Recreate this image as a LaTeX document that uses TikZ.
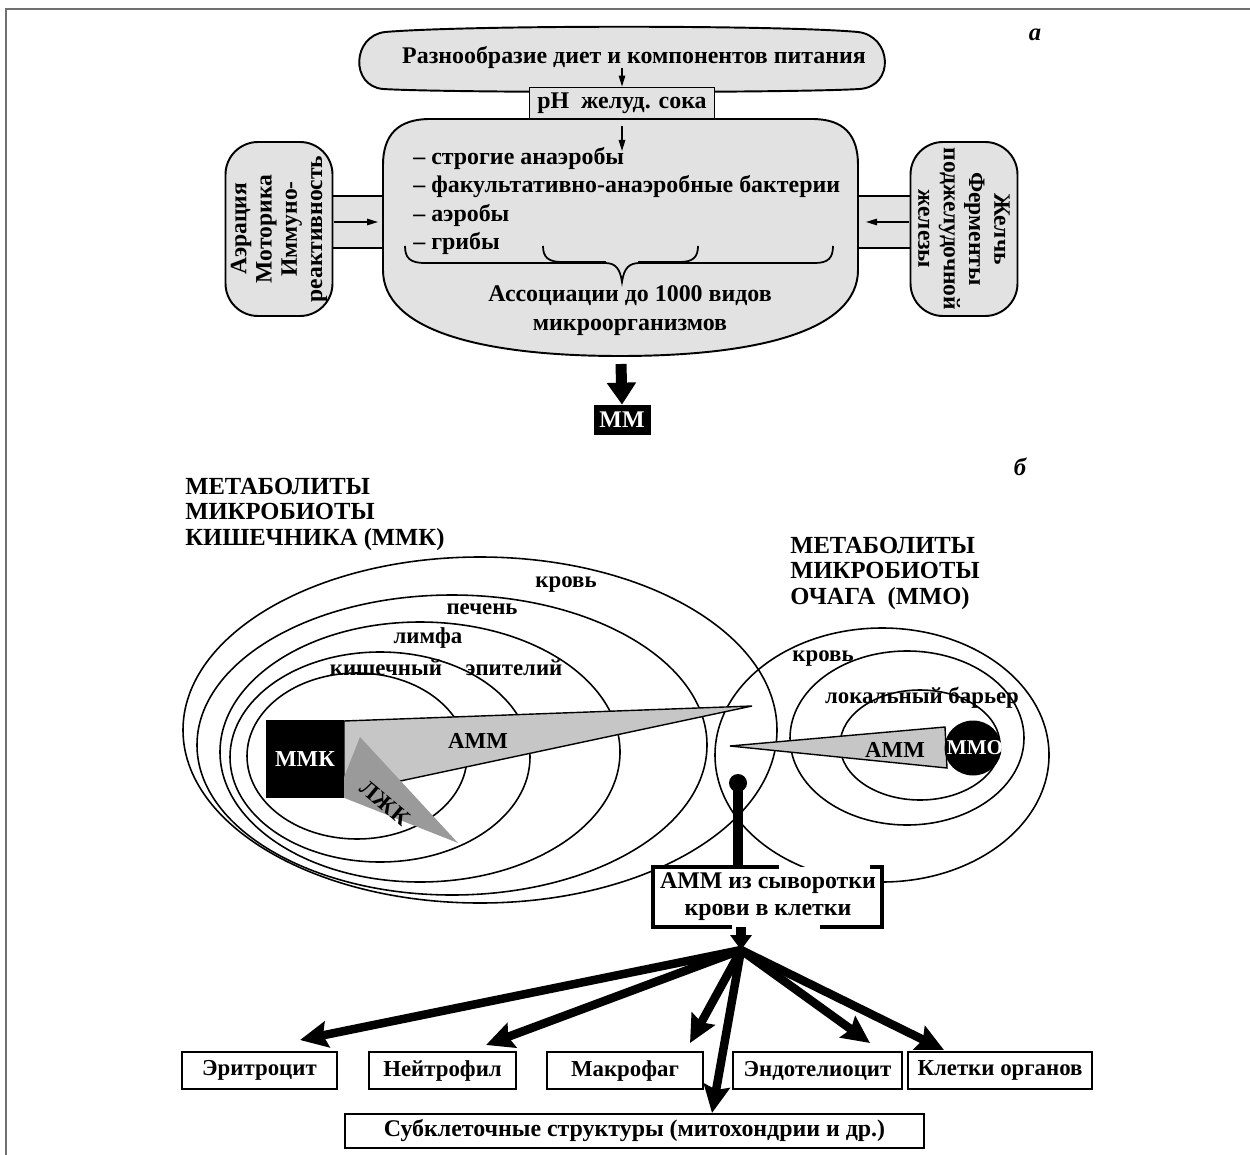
\documentclass[tikz,border=0pt]{standalone}
\usepackage{fontspec}
\setmainfont{Liberation Serif}
\usetikzlibrary{arrows.meta}
\definecolor{lightfill}{HTML}{E2E2E2}
\definecolor{ammgray}{HTML}{C6C6C6}
\definecolor{lzhkgray}{HTML}{9A9A9A}
\definecolor{framegray}{HTML}{707070}
\begin{document}
\begin{tikzpicture}[x=0.02cm,y=-0.02cm,
  txt/.style={font=\bfseries\fontsize{13}{15}\selectfont, inner sep=0pt},
  txtA/.style={font=\bfseries\fontsize{13.6}{15}\selectfont, inner sep=0pt},
  ttl/.style={font=\bfseries\fontsize{14}{14.5}\selectfont, align=left, inner sep=0pt, anchor=west},
  shapefill/.style={draw=black, line width=1.1pt, fill=lightfill},
  sidebox/.style={draw=black, line width=1.1pt, fill=lightfill, rounded corners=0.65cm,
     font=\bfseries\fontsize{13.4}{14.4}\selectfont, align=center, inner sep=0pt,
     minimum width=3.48cm, minimum height=2.14cm},
  sarrow/.style={line width=0.8pt, -{Triangle[length=0.22cm,width=0.13cm]}},
  bigarrow/.style={line width=0.22cm, -{Triangle[length=0.44cm,width=0.56cm]}},
  midarrow/.style={line width=0.2cm, -{Triangle[length=0.3cm,width=0.42cm]}},
  fan/.style={line width=0.17cm, -{Stealth[length=0.55cm,width=0.52cm,inset=0.08cm]}},
  cellbox/.style={draw=black, line width=1.2pt, font=\bfseries\fontsize{13}{15}\selectfont,
     minimum height=0.74cm, inner sep=0pt},
  ring/.style={draw=black, line width=0.9pt},
  brk/.style={line width=1.8pt, line cap=rect},
]
\useasboundingbox (0,0) rectangle (1250,1155);
% frame
\draw[framegray, line width=1.6pt] (6,1155) -- (6,9) -- (1250,9);

% ---------- part a ----------
\node[font=\bfseries\itshape\fontsize{14}{14}\selectfont] (la) at (1035,35) {а};

% bands
\draw[shapefill] (330,196) rectangle (386,248);
\draw[shapefill] (855,196) rectangle (913,248);

% side boxes
\node[sidebox, rotate=90] (leftb) at (279,229) {Аэрация\\Моторика\\Иммуно-\\реактивность};
\node[sidebox, rotate=-90] (rightb) at (964,229) {Желчь\\Ферменты\\поджелудочной\\железы};

% big shape
\draw[shapefill] (383,270) -- (383,165) .. controls (383,135) and (398,119) .. (430,119)
  -- (812,119) .. controls (844,119) and (858,135) .. (858,165) -- (858,270)
  .. controls (858,330) and (760,356) .. (620,356) .. controls (480,356) and (383,330) .. (383,270) -- cycle;

% cloud
\draw[shapefill] (385,32) .. controls (470,25) and (780,25) .. (858,32)
  .. controls (892,36) and (895,86) .. (860,89) .. controls (790,93) and (450,93) .. (383,89)
  .. controls (350,86) and (352,36) .. (385,32) -- cycle;
\node[txtA] (diet) at (634,57) {Разнообразие диет и компонентов питания};

\node[draw=black, line width=1.1pt, fill=lightfill, txtA, minimum width=3.7cm, minimum height=0.62cm] (ph) at (622,103) {рН\enspace желуд. сока};

\coordinate (dietArr) at (622,68);
\draw[sarrow] (dietArr) -- (dietArr |- ph.north);
\coordinate (phArr) at (622,126);
\coordinate (flowTop) at (622,151);
\draw[sarrow] (phArr) -- (flowTop);

% arrows in bands
\coordinate (lA) at (334,222);
\coordinate (lB) at (378,222);
\draw[sarrow] (lA) -- (lB);
\coordinate (rA) at (909,222);
\coordinate (rB) at (866,222);
\draw[sarrow] (rA) -- (rB);

% list
\node[txtA, anchor=west] (l1) at (413,158) {– строгие анаэробы};
\node[txtA, anchor=west] (l2) at (413,187) {– факультативно-анаэробные бактерии};
\node[txtA, anchor=west] (l3) at (413,215) {– аэробы};
\node[txtA, anchor=west] (l4) at (413,243) {– грибы};

% braces
\draw[line width=1pt] (405,246) .. controls (405,258) and (410,263) .. (425,263) -- (605,263)
  .. controls (615,263) and (620,268) .. (622,282) .. controls (624,268) and (629,263) .. (640,263)
  -- (815,263) .. controls (828,263) and (833,258) .. (833,246);
\draw[line width=1pt] (543,246) .. controls (543,257) and (548,262) .. (562,262) -- (606,262);
\draw[line width=1pt] (698,246) .. controls (698,257) and (693,262) .. (680,262) -- (638,262);

\node[txtA, align=center, font=\bfseries\fontsize{13.6}{16.5}\selectfont] (assoc) at (630,311) {Ассоциации до 1000 видов\\микроорганизмов};

% MM
\node[fill=black, text=white, txtA, minimum width=1.14cm, minimum height=0.6cm] (mm) at (622,420) {ММ};
\coordinate (mmTop) at (621,364);
\draw[bigarrow] (mmTop) -- (mm.north);

% ---------- part b ----------
\node[font=\bfseries\itshape\fontsize{14}{14}\selectfont] (lb) at (1020,467) {б};

\node[ttl] (t1) at (185,514) {МЕТАБОЛИТЫ\\МИКРОБИОТЫ\\КИШЕЧНИКА (ММК)};
\node[ttl] (t2) at (790,573) {МЕТАБОЛИТЫ\\МИКРОБИОТЫ\\ОЧАГА\enspace(ММО)};

% left rings
\draw[ring] (480,730) ellipse [x radius=297, y radius=173];
\draw[ring] (452,745) ellipse [x radius=255, y radius=150];
\draw[ring] (420,752) ellipse [x radius=200, y radius=130];
\draw[ring] (380,757) ellipse [x radius=150, y radius=105];
\draw[ring] (357,756) ellipse [x radius=110, y radius=83];
% right rings
\draw[ring] (882,755) ellipse [x radius=167, y radius=127];
\draw[ring] (907,738) ellipse [x radius=117, y radius=87];
\draw[ring] (920,745) ellipse [x radius=80, y radius=55];

% ring labels
\node[txt] (kr1) at (566,585) {кровь};
\node[txt] (pech) at (482,609) {печень};
\node[txt] (limf) at (428,638) {лимфа};
\node[txt] (kish) at (386,668) {кишечный};
\node[txt] (epit) at (514,668) {эпителий};
\node[txt] (kr2) at (823,659) {кровь};
\node[txt] (bar) at (922,698) {локальный барьер};

% triangles
\filldraw[fill=ammgray, draw=black, line width=0.8pt] (344,721) -- (752,706) -- (344,793) -- cycle;
\fill[lzhkgray] (360,737) -- (458,843) -- (337,795) -- cycle;
\node[fill=black, text=white, txt, minimum width=1.56cm, minimum height=1.56cm] (mmk) at (305,759) {ММК};
\node[txt] (amm1) at (478,741) {АММ};
\node[txt, rotate=-40] (lzhk) at (385,803) {ЛЖК};

\filldraw[fill=ammgray, draw=black, line width=0.8pt] (945,727) -- (730,746) -- (947,768) -- cycle;
\fill[black] (973,748) ellipse [x radius=28.5, y radius=27.5];
\node[txt, text=white, font=\bfseries\fontsize{12}{12}\selectfont] (mmo) at (975,748) {ММО};
\node[txt] (amm2) at (895,750) {АММ};

% serum box
\node[txtA, align=center, fill=white, minimum width=4.58cm, minimum height=1.2cm,
  font=\bfseries\fontsize{13.6}{15.5}\selectfont] (ammbox) at (768,897) {АММ из сыворотки\\крови в клетки};
\draw[brk] (730,927) -- (653,927) -- (653,867) -- (777,867);
\draw[brk] (872,867) -- (882,867) -- (882,927) -- (822,927);

\coordinate (blob) at (738,783);
\fill[black] (blob) circle [radius=9];
\draw[line width=0.2cm] (blob) -- (blob |- ammbox.north);

\coordinate (hub) at (741,950);
\draw[midarrow] (ammbox.south -| hub) -- (hub);

% target boxes
\node[cellbox, minimum width=3.1cm] (erit) at (259.5,1070.5) {Эритроцит};
\node[cellbox, minimum width=2.94cm] (neit) at (442.5,1070.5) {Нейтрофил};
\node[cellbox, minimum width=3.12cm] (makr) at (625,1070.5) {Макрофаг};
\node[cellbox, minimum width=3.38cm] (endo) at (817.5,1070.5) {Эндотелиоцит};
\node[cellbox, minimum width=3.68cm] (klet) at (1000,1070.5) {Клетки органов};
\node[cellbox, minimum width=11.58cm, minimum height=0.68cm, font=\bfseries\fontsize{13.6}{15}\selectfont] (subk) at (634.5,1131) {Субклеточные структуры (митохондрии и др.)};

\coordinate (tErit) at (300,1040);
\coordinate (tNeit) at (486,1045);
\coordinate (tMakr) at (690,1043);
\coordinate (tEndo) at (870,1043);
\coordinate (tKlet) at (944,1050);
\coordinate (tSubk) at (712,1113);
\draw[fan] (hub) -- (tErit);
\draw[fan] (hub) -- (tNeit);
\draw[fan] (hub) -- (tMakr);
\draw[fan] (hub) -- (tEndo);
\draw[fan] (hub) -- (tKlet);
\draw[fan] (hub) -- (tSubk);
\end{tikzpicture}
\end{document}
